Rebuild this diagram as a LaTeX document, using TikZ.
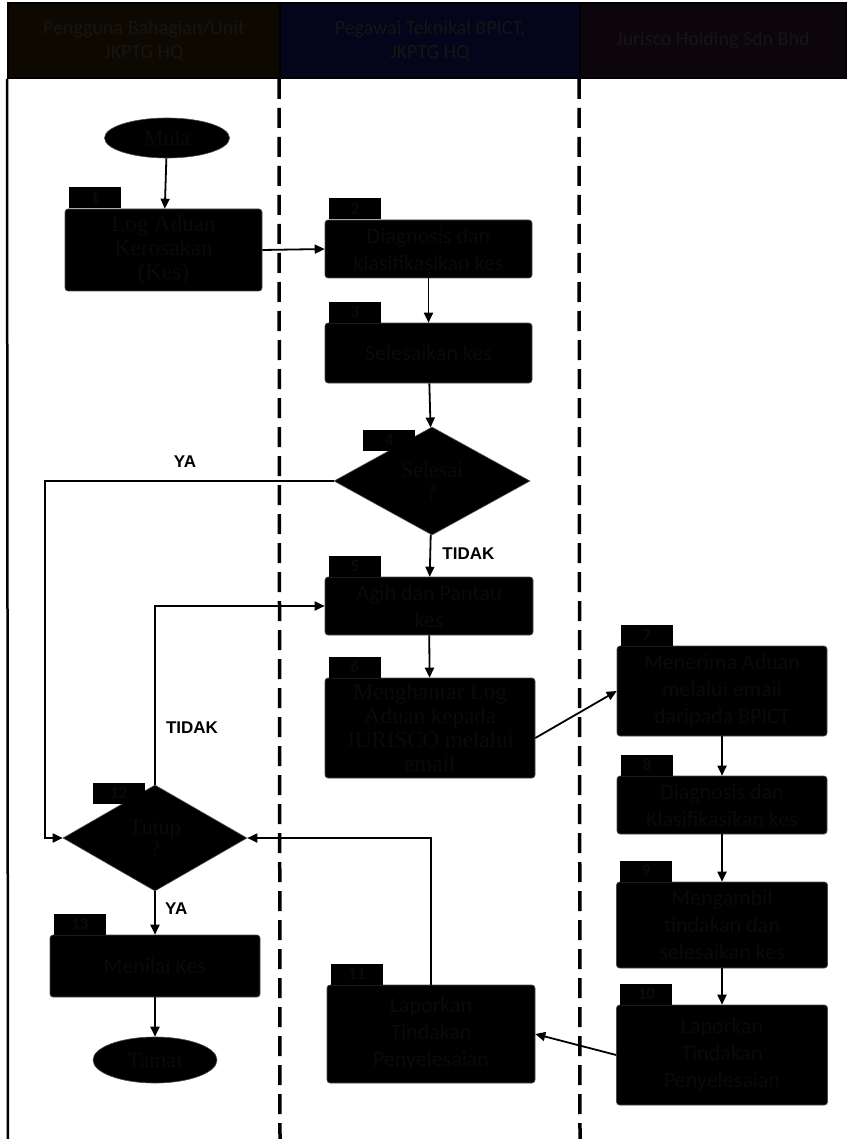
\documentclass[tikz,border=0pt]{standalone}
\usepackage{fontspec}
\setmainfont{Carlito}
\newfontfamily\serif{Liberation Serif}
\newfontfamily\ansfont{Liberation Sans}
\usetikzlibrary{arrows.meta,shapes.geometric,calc}

\definecolor{txt}{HTML}{0A0A0A}
\definecolor{hdrtxt}{HTML}{151515}
\definecolor{hdrA}{HTML}{0E0900}
\definecolor{hdrB}{HTML}{04041A}
\definecolor{hdrC}{HTML}{0C050C}

\begin{document}
\begin{tikzpicture}[
  x=1pt, y=-1pt,
  hdr/.style={draw=black, line width=2pt, text=hdrtxt, align=center,
              font=\fontsize{20}{24}\selectfont, inner sep=0pt},
  box/.style={draw=black!70, line width=0.6pt, fill=black, rounded corners=3pt,
              text=txt, align=center, inner sep=2pt,
              font=\fontsize{22}{27}\selectfont},
  sbox/.style={box, font=\serif\fontsize{23}{24}\selectfont},
  tagbox/.style={fill=black, text=txt, minimum width=52pt, minimum height=21pt,
                 inner sep=0pt, font=\fontsize{17}{17}\selectfont\bfseries},
  dec/.style={diamond, draw=black!70, line width=0.6pt, fill=black, text=txt,
              align=center, inner sep=0pt, font=\serif\fontsize{22}{22}\selectfont},
  term/.style={ellipse, draw=black!70, line width=0.6pt, fill=black, text=txt,
               inner sep=0pt, font=\serif\fontsize{22}{22}\selectfont},
  arr/.style={-{Triangle[length=10pt,width=9pt]}, line width=1.8pt},
  lane/.style={line width=3.5pt, dash pattern=on 20pt off 9pt},
  ans/.style={font=\ansfont\bfseries\fontsize{17}{17}\selectfont},
]
  \useasboundingbox (0,0) rectangle (846,1139);

  % ===================== HEADERS / LANES =====================
  \node[hdr, fill=hdrA, minimum width=272pt, minimum height=75pt] (hA) at (144,40.5)
    {Pengguna Bahagian/Unit\\JKPTG HQ};
  \node[hdr, fill=hdrB, minimum width=300pt, minimum height=75pt] (hB) at (430,40.5)
    {Pegawai Teknikal BPICT,\\JKPTG HQ};
  \node[hdr, fill=hdrC, minimum width=266pt, minimum height=75pt] (hC) at (713,40.5)
    {Jurisco Holding Sdn Bhd};

  \draw[line width=2.5pt] (hA.south west) -- (8,1139);
  \draw[lane] (hB.south west) -- (280,1139);
  \draw[lane] (hC.south west) -- (580,1139);

  % ===================== LEFT LANE =====================
  \node[term, minimum width=125pt, minimum height=40pt] (mula) at (167,138) {Mula};
  \node[sbox, minimum width=197pt, minimum height=82pt] (b1) at (163.5,250)
    {Log Aduan\\Kerosakan\\(Kes)};

  \node[dec, minimum width=184pt, minimum height=106pt] (d12) at (155,838) {Tutup\\?};
  \node[box, minimum width=210pt, minimum height=62pt] (b13) at (155,966) {Menilai Kes};
  \node[term, minimum width=124pt, minimum height=46pt] (tamat) at (155,1060) {Tamat};

  % ===================== MIDDLE LANE =====================
  \node[box, minimum width=207pt, minimum height=58pt] (b2) at (428.5,249)
    {Diagnosis dan\\klasifikasikan kes};
  \node[box, minimum width=207pt, minimum height=60pt] (b3) at (428.5,353)
    {Selesaikan kes};
  \node[dec, minimum width=196pt, minimum height=108pt] (d4) at (432,481) {Selesai\\?};
  \node[box, minimum width=208pt, minimum height=58pt] (b5) at (429,606)
    {Agih dan Pantau\\kes};
  \node[sbox, minimum width=210pt, minimum height=100pt] (b6) at (430,728)
    {Menghantar Log\\Aduan kepada\\JURISCO melalui\\email};
  \node[box, minimum width=208pt, minimum height=98pt] (b11) at (431,1034)
    {Laporkan\\Tindakan\\Penyelesaian};

  % ===================== RIGHT LANE =====================
  \node[box, minimum width=210pt, minimum height=90pt] (b7) at (722,691)
    {Menerima Aduan\\melalui email\\daripada BPICT};
  \node[box, minimum width=210pt, minimum height=58pt] (b8) at (722,805)
    {Diagnosis dan\\Klasifikasikan kes};
  \node[box, minimum width=211pt, minimum height=86pt] (b9) at (722,925)
    {Mengambil\\tindakan dan\\selesaikan kes};
  \node[box, minimum width=211pt, minimum height=100pt] (b10) at (722,1055)
    {Laporkan\\Tindakan\\Penyelesaian};

  % step numbers
  \foreach \n in {1,2,3,5,6,7,8,9,10,11,13}
    \node[tagbox, anchor=south west] (t\n) at ([xshift=4pt]b\n.north west) {\n};
  \node[tagbox, anchor=north west] (t4) at ([xshift=-69pt,yshift=-3pt]d4.north) {4};
  \node[tagbox, anchor=north east] (t12) at ([xshift=-10pt,yshift=2pt]d12.north) {12};

  % ===================== CONNECTORS =====================
  \draw[arr] (mula) -- (b1);
  \draw[arr] (b1.east) -- (b2.west);
  \draw[arr] (b2) -- (b3);
  \draw[arr] (b3) -- (d4);
  \draw[arr] (d4) -- node[ans, right=8pt, pos=0.45] {TIDAK} (b5);
  \draw[arr] (b5) -- (b6);
  \draw[arr] ([yshift=-10pt]b6.east) -- (b7.west);
  \draw[arr] (b7) -- (b8);
  \draw[arr] (b8) -- (b9);
  \draw[arr] (b9) -- (b10);
  \draw[arr] (b10.west) -- (b11.east);
  \draw[arr] (b11.north) |- (d12.east);
  \draw[arr] (d4.west) -| ([xshift=-18pt]d12.west) -- (d12.west);
  \node[ans] (ya1) at (185,462) {YA};
  \draw[arr] (d12.north) |- (b5.west);
  \node[ans] (tidak2) at (192,728) {TIDAK};
  \draw[arr] (d12) -- node[ans, right=6pt, pos=0.4] {YA} (b13);
  \draw[arr] (b13) -- (tamat);
\end{tikzpicture}
\end{document}
